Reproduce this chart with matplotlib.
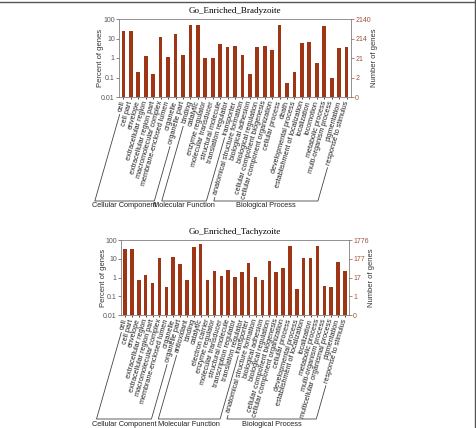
import numpy as np
import matplotlib
matplotlib.use("Agg")
import matplotlib.pyplot as plt
from matplotlib.lines import Line2D

# ---------------- data ----------------
brady_title = "Go_Enriched_Bradyzoite"
brady_cats = ["cell", "cell part", "envelope", "extracellular region",
              "extracellular region part", "macromolecular complex",
              "membrane-enclosed lumen", "organelle", "organelle part",
              "binding", "catalytic", "enzyme regulator", "molecular transducer",
              "structural molecule", "translation regulator", "transporter",
              "anatomical structure formation", "biological adhesion",
              "biological regulation", "cellular component biogenesis",
              "cellular component organization", "cellular process", "death",
              "developmental process", "establishment of localization",
              "localization", "locomotion", "metabolic process",
              "multi-organism process", "pigmentation", "response to stimulus"]
brady_vals = [25, 25, 0.18, 1.3, 0.14, 12, 1.15, 17, 1.4,
              48, 48, 1.0, 0.95, 5.0, 3.6, 4.0,
              1.4, 0.14, 3.8, 4.3, 2.7, 48, 0.045, 0.18, 5.8, 6.3, 0.55, 45,
              0.09, 3.1, 3.5]
brady_groups = [("Cellular Component", 9), ("Molecular Function", 7),
                ("Biological Process", 15)]
brady_right = ["0", "2", "21", "214", "2140"]

tachy_title = "Go_Enriched_Tachyzoite"
tachy_cats = ["cell", "cell part", "envelope", "extracellular region",
              "extracellular region part", "macromolecular complex",
              "membrane-enclosed lumen", "organelle", "organelle part",
              "antioxidant", "binding", "catalytic", "electron carrier",
              "enzyme regulator", "molecular transducer", "structural molecule",
              "transcription regulator", "translation regulator", "transporter",
              "anatomical structure formation", "biological adhesion",
              "biological regulation", "cellular component biogenesis",
              "cellular component organization", "cellular process",
              "developmental process", "establishment of localization",
              "localization", "metabolic process", "multi-organism process",
              "multicellular organismal process", "pigmentation",
              "response to stimulus"]
tachy_vals = [35, 35, 0.75, 1.3, 0.48, 10.5, 0.3, 12.5, 5.5,
              0.7, 45, 65, 0.7, 2.1, 1.15, 2.6, 1.0, 2.0, 5.8,
              1.1, 0.7, 7.2, 1.9, 3.2, 50, 0.23, 11, 11, 50, 0.35, 0.3, 6.5, 2.3]
tachy_groups = [("Cellular Component", 9), ("Molecular Function", 10),
                ("Biological Process", 14)]
tachy_right = ["0", "1", "17", "177", "1776"]

left_ticks = [0.01, 0.1, 1, 10, 100]
left_ticklabels = ["0.01", "0.1", "1", "10", "100"]

# ---------------- style ----------------
W, H = 477, 428
DPI = 100
BAR = "#9e3515"
RCOL = "#a0523a"
SPINE = "#808080"
ANG = 74
SANS = "Liberation Sans"
SERIF = "Liberation Serif"

fig = plt.figure(figsize=(W / DPI, H / DPI), dpi=DPI)


def px_axes(l, r, t, b):
    return fig.add_axes([l / W, 1 - b / H, (r - l) / W, (b - t) / H])


def panel(rect, title, cats, vals, right_labels, lpos, rpos):
    ax = px_axes(*rect)
    x = np.arange(len(cats))
    ax.bar(x, vals, width=0.5, bottom=0.01, color=BAR, edgecolor="none")
    ax.set_yscale("log")
    ax.set_ylim(0.01, 100)
    ax.set_xlim(-0.6, len(cats) - 0.4)
    ax.set_yticks(left_ticks)
    ax.set_yticklabels(left_ticklabels, fontsize=5, fontfamily=SANS, color="#333333")
    ax.minorticks_off()
    ax.tick_params(axis="y", length=2, width=0.5, pad=1, colors="#555555")
    ax.tick_params(axis="x", length=1.5, width=0.5, pad=1.5)
    ax.set_xticks(x)
    ax.set_xticklabels(cats, rotation=ANG, ha="right", va="center",
                       rotation_mode="anchor", fontsize=5.2, fontfamily=SANS,
                       color="#222222")
    for s in ax.spines.values():
        s.set_color(SPINE)
        s.set_linewidth(0.6)
    ax.set_ylabel("Percent of genes", fontsize=5.5, fontfamily=SANS,
                  color="#333333")
    ax.yaxis.set_label_coords(lpos, 0.5)
    ax.set_title(title, fontsize=6.5, fontfamily=SERIF, pad=4)

    ax2 = ax.twinx()
    ax2.set_yscale("log")
    ax2.set_ylim(0.01, 100)
    ax2.set_yticks(left_ticks)
    ax2.set_yticklabels(right_labels, fontsize=5, fontfamily=SANS, color=RCOL)
    ax2.minorticks_off()
    ax2.tick_params(axis="y", length=2, width=0.5, pad=1, colors=RCOL)
    for lab in ax2.get_yticklabels():
        lab.set_color(RCOL)
    for s in ax2.spines.values():
        s.set_visible(False)
    ax2.set_ylabel("Number of genes", fontsize=5.5, fontfamily=SANS,
                   color="#333333")
    ax2.yaxis.set_label_coords(rpos, 0.5)
    return ax


def brackets(ax, groups, base_px):
    fig.canvas.draw()
    r = fig.canvas.get_renderer()
    labels = ax.get_xticklabels()
    th = np.deg2rad(ANG)
    c, s = np.cos(th), np.sin(th)
    yb = H - base_px
    gap = 3.0

    def start_pt(lab):
        bb = lab.get_window_extent(r)
        Wb, Hb = bb.width, bb.height
        h = (Wb * s - Hb * c) / (s * s - c * c)
        x0 = bb.x0 + h / 2 * s
        y0 = bb.y0 + h / 2 * c
        return x0 - gap * c, y0 - gap * s

    def down(pt):
        px, py = pt
        return px - (py - yb) / np.tan(th), yb

    i = 0
    for name, n in groups:
        a = start_pt(labels[i])
        b = start_pt(labels[i + n - 1])
        ab = down(a)
        bbp = down(b)
        pts = [a, ab, bbp, b]
        xs = [p[0] / W for p in pts]
        ys = [p[1] / H for p in pts]
        fig.add_artist(Line2D(xs, ys, color="#444444", lw=0.6))
        fig.text((ab[0] + bbp[0]) / 2 / W, (yb - 1.5) / H, name, ha="center",
                 va="top", fontsize=5.3, fontfamily=SANS, color="#222222")
        i += n


ax1 = panel((119, 351, 19, 97), brady_title, brady_cats, brady_vals,
            brady_right, -0.065, 1.086)
ax3 = panel((121, 349, 240, 315), tachy_title, tachy_cats, tachy_vals,
            tachy_right, -0.061, 1.083)
brackets(ax1, brady_groups, 201)
brackets(ax3, tachy_groups, 419)

# frame lines at top and right
fig.add_artist(Line2D([0, 1], [1 - 1.5 / H] * 2, color="#555555", lw=1.0))
fig.add_artist(Line2D([1 - 1.5 / W] * 2, [0, 1], color="#555555", lw=1.0))

fig.savefig("out.png", dpi=DPI)
